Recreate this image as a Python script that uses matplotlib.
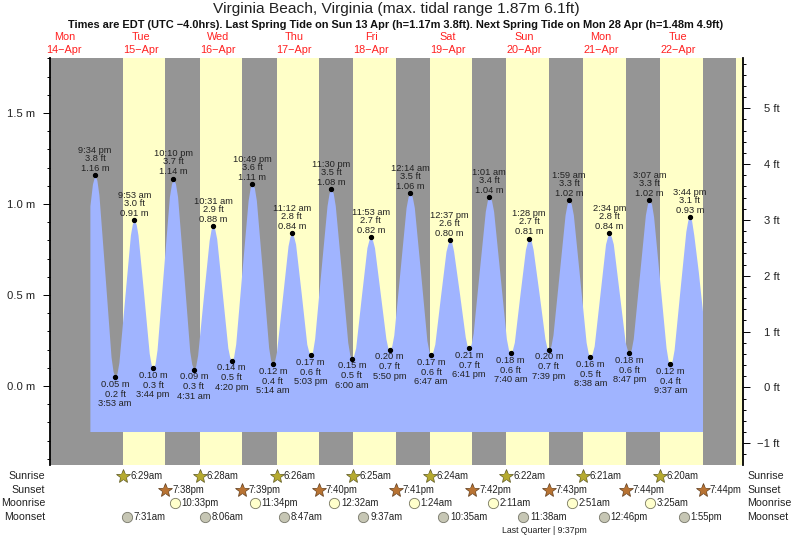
import matplotlib
matplotlib.use('Agg')
import matplotlib.pyplot as plt
from matplotlib.ticker import MultipleLocator, FixedLocator

plt.rcParams['font.family'] = ['Liberation Sans', 'DejaVu Sans']

# tide curve, hours counted from 14 Apr 00:00
tide_hours = [20.0, 20.8, 21.57,
              22.2, 22.83, 24.73, 26.62, 27.25, 27.88,
              28.48, 29.08, 30.88, 32.68, 33.28, 33.88,
              34.47, 35.05, 36.81, 38.56, 39.15, 39.73,
              40.37, 41.02, 42.95, 44.88, 45.53, 46.17,
              46.8, 47.44, 49.35, 51.25, 51.89, 52.52,
              53.12, 53.72, 55.52, 57.32, 57.92, 58.52,
              59.1, 59.68, 61.43, 63.17, 63.75, 64.33,
              64.98, 65.63, 67.58, 69.52, 70.17, 70.82,
              71.46, 72.10, 74.03, 75.95, 76.59, 77.23,
              77.83, 78.42, 80.22, 82.01, 82.6, 83.2,
              83.79, 84.37, 86.13, 87.88, 88.47, 89.05,
              89.7, 90.34, 92.28, 94.21, 94.86, 95.5,
              96.15, 96.8, 98.75, 100.7, 101.35, 102.0,
              102.59, 103.18, 104.94, 106.7, 107.29, 107.88,
              108.48, 109.07, 110.86, 112.64, 113.24, 113.83,
              114.47, 115.11, 117.03, 118.95, 119.59, 120.23,
              120.89, 121.54, 123.5, 125.47, 126.13, 126.78,
              127.36, 127.95, 129.7, 131.45, 132.04, 132.62,
              133.23, 133.83, 135.65, 137.47, 138.07, 138.68,
              139.31, 139.95, 141.85, 143.75, 144.39, 145.02,
              145.69, 146.35, 148.35, 150.34, 151.0, 151.67,
              152.25, 152.83, 154.57, 156.31, 156.89, 157.47,
              158.09, 158.71, 160.56, 162.41, 163.03, 163.65,
              164.28, 164.92, 166.82, 168.71, 169.35, 169.98,
              170.65, 171.31, 173.31, 175.3, 175.96, 176.63,
              177.22, 177.82, 179.6, 181.38, 181.98, 182.57,
              183.19, 183.81, 185.68, 187.54, 188.16, 188.78,
              189.41, 190.05, 191.95, 193.85, 194.49, 195.12,
              195.77, 196.42, 198.37, 200.32, 200.97, 201.62,
              202.23, 202.84, 204.68, 206.51, 207.12, 207.73,
              208.3, 209.0, 210.4, 211.73]
tide_m = [0.99, 1.11, 1.16,
          1.13, 1.05, 0.61, 0.16, 0.08, 0.05,
          0.07, 0.13, 0.48, 0.83, 0.89, 0.91,
          0.89, 0.83, 0.51, 0.18, 0.12, 0.10,
          0.12, 0.20, 0.62, 1.04, 1.11, 1.14,
          1.11, 1.04, 0.62, 0.19, 0.12, 0.09,
          0.11, 0.17, 0.49, 0.80, 0.86, 0.88,
          0.86, 0.81, 0.51, 0.21, 0.16, 0.14,
          0.16, 0.23, 0.63, 1.02, 1.09, 1.11,
          1.09, 1.02, 0.62, 0.21, 0.14, 0.12,
          0.14, 0.19, 0.48, 0.77, 0.82, 0.84,
          0.82, 0.78, 0.51, 0.23, 0.19, 0.17,
          0.19, 0.26, 0.63, 0.99, 1.06, 1.08,
          1.06, 0.99, 0.62, 0.24, 0.17, 0.15,
          0.17, 0.21, 0.49, 0.76, 0.80, 0.82,
          0.80, 0.76, 0.51, 0.26, 0.21, 0.20,
          0.22, 0.28, 0.63, 0.98, 1.04, 1.06,
          1.04, 0.98, 0.62, 0.25, 0.19, 0.17,
          0.19, 0.23, 0.49, 0.74, 0.78, 0.80,
          0.79, 0.74, 0.51, 0.27, 0.22, 0.21,
          0.23, 0.29, 0.63, 0.96, 1.02, 1.04,
          1.02, 0.96, 0.61, 0.26, 0.20, 0.18,
          0.20, 0.24, 0.50, 0.75, 0.79, 0.81,
          0.80, 0.75, 0.51, 0.26, 0.21, 0.20,
          0.22, 0.28, 0.61, 0.94, 1.00, 1.02,
          1.00, 0.94, 0.59, 0.24, 0.18, 0.16,
          0.18, 0.22, 0.50, 0.78, 0.82, 0.84,
          0.82, 0.78, 0.51, 0.24, 0.20, 0.18,
          0.20, 0.26, 0.60, 0.94, 1.00, 1.02,
          1.00, 0.93, 0.57, 0.21, 0.14, 0.12,
          0.14, 0.20, 0.53, 0.85, 0.91, 0.93,
          0.91, 0.83, 0.63, 0.41]
tide_floor = -0.25

# high and low waters, the first is a high and they alternate
extreme_days = [14, 15, 15, 15, 15, 16, 16, 16, 16, 17, 17, 17, 17, 18, 18, 18,
                19, 19, 19, 19, 20, 20, 20, 20, 21, 21, 21, 21, 22, 22, 22]
extreme_times = ['9:34 pm', '3:53 am', '9:53 am', '3:44 pm', '10:10 pm', '4:31 am', '10:31 am',
                 '4:20 pm', '10:49 pm', '5:14 am', '11:12 am', '5:03 pm', '11:30 pm', '6:00 am',
                 '11:53 am', '5:50 pm', '12:14 am', '6:47 am', '12:37 pm', '6:41 pm', '1:01 am',
                 '7:40 am', '1:28 pm', '7:39 pm', '1:59 am', '8:38 am', '2:34 pm', '8:47 pm',
                 '3:07 am', '9:37 am', '3:44 pm']
extreme_m = [1.16, 0.05, 0.91, 0.10, 1.14, 0.09, 0.88, 0.14, 1.11, 0.12, 0.84, 0.17, 1.08, 0.15,
             0.82, 0.20, 1.06, 0.17, 0.80, 0.21, 1.04, 0.18, 0.81, 0.20, 1.02, 0.16, 0.84, 0.18,
             1.02, 0.12, 0.93]
extreme_ft = [3.8, 0.2, 3.0, 0.3, 3.7, 0.3, 2.9, 0.5, 3.6, 0.4, 2.8, 0.6, 3.5, 0.5,
              2.7, 0.7, 3.5, 0.6, 2.6, 0.7, 3.4, 0.6, 2.7, 0.7, 3.3, 0.5, 2.8, 0.6,
              3.3, 0.4, 3.1]

day_names = ['Mon', 'Tue', 'Wed', 'Thu', 'Fri', 'Sat', 'Sun', 'Mon', 'Tue']
day_dates = [14, 15, 16, 17, 18, 19, 20, 21, 22]

sunrise_days = [15, 16, 17, 18, 19, 20, 21, 22]
sunrise_times = ['6:29am', '6:28am', '6:26am', '6:25am', '6:24am', '6:22am', '6:21am', '6:20am']
sunset_days = [15, 16, 17, 18, 19, 20, 21, 22]
sunset_times = ['7:38pm', '7:39pm', '7:40pm', '7:41pm', '7:42pm', '7:43pm', '7:44pm', '7:44pm']
moonrise_days = [15, 16, 18, 19, 20, 21, 22]
moonrise_times = ['10:33pm', '11:34pm', '12:32am', '1:24am', '2:11am', '2:51am', '3:25am']
moonset_days = [15, 16, 17, 18, 19, 20, 21, 22]
moonset_times = ['7:31am', '8:06am', '8:47am', '9:37am', '10:35am', '11:38am', '12:46pm', '1:55pm']
next_sunrise = '6:19am'  # 23 Apr, the last strip of daylight


def to_hours(day, label):
    label = label.replace(' ', '')
    h, m = label[:-2].split(':')
    h = int(h) % 12
    if label.endswith('pm'):
        h += 12
    return (day - 14) * 24 + h + int(m) / 60


W, H = 793, 539
left, right, top, bottom = 49.5, 743.0, 57.5, 465.0

fig = plt.figure(figsize=(W / 100, H / 100), dpi=100)
ax = fig.add_axes([left / W, 1 - bottom / H, (right - left) / W, (bottom - top) / H])
ax.set_facecolor('#ffffc8')
ax.set_xlim(7.36, 224.4)
ax.set_ylim(-0.434, 1.805)

# nights
sunrise_hours = [to_hours(d, t) for d, t in zip(sunrise_days, sunrise_times)]
sunset_hours = [to_hours(d, t) for d, t in zip(sunset_days, sunset_times)]
night_starts = [7.36] + sunset_hours
night_ends = sunrise_hours + [to_hours(23, next_sunrise)]
for a, b in zip(night_starts, night_ends):
    ax.axvspan(a, b, color='#959595', lw=0, zorder=1)

ax.fill_between(tide_hours, tide_floor, tide_m, color='#a0b4ff', lw=0, zorder=2)

# markers and their labels
for i, (d, t, m, ft) in enumerate(zip(extreme_days, extreme_times, extreme_m, extreme_ft)):
    x = to_hours(d, t)
    ax.plot(x, m, 'o', color='black', ms=2.8, zorder=4)
    if i % 2 == 0:
        rows = [(f'{m:.2f} m', 4.8), (f'{ft:.1f} ft', 12.0), (t, 17.8)]
    else:
        rows = [(f'{m:.2f} m', -5.2), (f'{ft:.1f} ft', -12.4), (t, -19.2)]
    for s, off in rows:
        ax.annotate(s, (x, m), xytext=(0, off), textcoords='offset points', ha='center',
                    va='center', fontsize=6.7, color='#222222', zorder=5)

for s in ['top', 'right', 'bottom']:
    ax.spines[s].set_visible(False)
ax.spines['left'].set_linewidth(1.3)
ax.xaxis.set_visible(False)
ax.yaxis.set_major_locator(FixedLocator([0.0, 0.5, 1.0, 1.5]))
ax.yaxis.set_minor_locator(MultipleLocator(0.1))
ax.set_yticklabels(['0.0 m', '0.5 m', '1.0 m', '1.5 m'])
ax.tick_params(axis='y', which='major', length=5, width=0.7, pad=5, labelsize=8.1, labelcolor='#222222')
ax.tick_params(axis='y', which='minor', length=2.4, width=0.7)

# feet on the right
ax_ft = ax.twinx()
ax_ft.set_ylim(-1.39, 5.91)
for s in ['top', 'left', 'bottom']:
    ax_ft.spines[s].set_visible(False)
ax_ft.spines['right'].set_linewidth(1.3)
ax_ft.yaxis.set_major_locator(FixedLocator([-1, 0, 1, 2, 3, 4, 5]))
ax_ft.yaxis.set_minor_locator(MultipleLocator(0.2))
ax_ft.set_yticklabels(['\u22121 ft', '0 ft', '1 ft', '2 ft', '3 ft', '4 ft', '5 ft'])
ax_ft.tick_params(axis='y', which='major', length=5, width=0.7, pad=21.6, labelsize=8.1, labelcolor='#222222')
ax_ft.tick_params(axis='y', which='minor', length=2.4, width=0.7)
for lab in ax_ft.get_yticklabels():
    lab.set_ha('right')

# day headings
for name, d in zip(day_names, day_dates):
    x = (d - 14) * 24 + 12
    trans = ax.get_xaxis_transform()
    ax.text(x, 1.0503, name, transform=trans, ha='center', va='center', fontsize=7.8, color='#ff2020')
    ax.text(x, 1.0184, f'{d}\u2212Apr', transform=trans, ha='center', va='center', fontsize=7.8, color='#ff2020')

fig.text(396 / W, 1 - 8.5 / H, 'Virginia Beach, Virginia (max. tidal range 1.87m 6.1ft)',
         ha='center', va='center', fontsize=11.15, color='#222222')
fig.text(396 / W, 1 - 25 / H,
         'Times are EDT (UTC \u22124.0hrs). Last Spring Tide on Sun 13 Apr (h=1.17m 3.8ft). '
         'Next Spring Tide on Mon 28 Apr (h=1.48m 4.9ft)',
         ha='center', va='center', fontsize=7.9, fontweight='bold', color='#111111')

# sun and moon rows under the plot
rows_ax = fig.add_axes([left / W, 0, (right - left) / W, (H - bottom) / H], sharex=ax)
rows_ax.set_ylim(4.63, -0.81)
rows_ax.axis('off')
rows_ax.patch.set_visible(False)

row_names = ['Sunrise', 'Sunset', 'Moonrise', 'Moonset']
row_days = [sunrise_days, sunset_days, moonrise_days, moonset_days]
row_times = [sunrise_times, sunset_times, moonrise_times, moonset_times]
row_face = ['#b5aa30', '#b87333', '#ffffcc', '#c6c6b4']
row_edge = ['#5a5520', '#5c3a1a', '#77775f', '#77776a']

for r, name in enumerate(row_names):
    rows_ax.text(-4.5 / (right - left), r, name, transform=rows_ax.get_yaxis_transform(),
                 ha='right', va='center', fontsize=7.7, color='#222222')
    rows_ax.text(1 + 4 / (right - left), r, name, transform=rows_ax.get_yaxis_transform(),
                 ha='left', va='center', fontsize=7.7, color='#222222')
    for d, t in zip(row_days[r], row_times[r]):
        x = to_hours(d, t)
        if r < 2:
            rows_ax.plot(x, r, '*', ms=10, mfc=row_face[r], mec=row_edge[r], mew=0.5, clip_on=False)
            rows_ax.plot(x, r, 'p', ms=5.8, mfc=row_face[r], mec='none', clip_on=False)
        else:
            rows_ax.plot(x, r, 'o', ms=7.4, mfc=row_face[r], mec=row_edge[r], mew=0.6, clip_on=False)
        rows_ax.annotate(t, (x, r), xytext=(4.8, 0), textcoords='offset points', ha='left',
                         va='center', fontsize=6.9, color='#222222')

rows_ax.text(162.1, 4, 'Last Quarter | 9:37pm', ha='center', va='center', fontsize=6.3, color='#222222')

fig.savefig('out.png', dpi=100)
